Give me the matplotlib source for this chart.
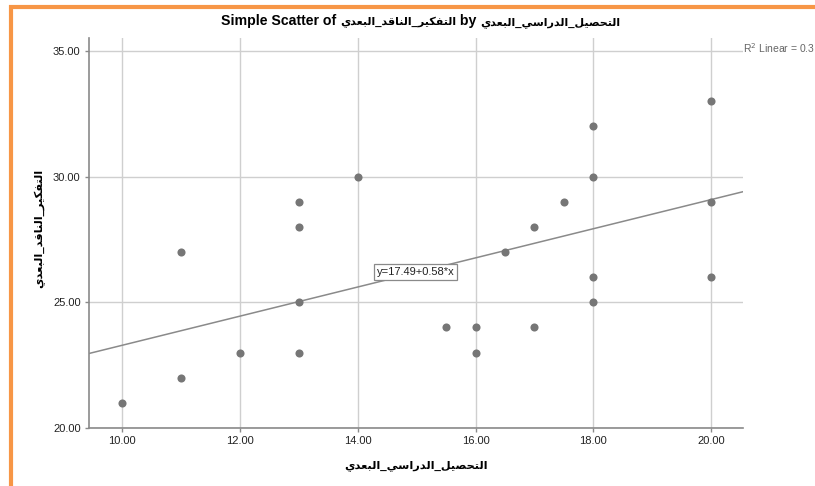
import matplotlib
matplotlib.use("Agg")
import matplotlib.pyplot as plt
from matplotlib.lines import Line2D

# ---------------- data ----------------
x_values = [10, 11, 11, 12, 13, 13, 13, 13, 14, 15.5, 16, 16, 16.5, 17, 17, 17.5,
            18, 18, 18, 18, 20, 20, 20]
y_values = [21, 22, 27, 23, 23, 25, 28, 29, 30, 24, 23, 24, 27, 24, 28, 29,
            25, 26, 30, 32, 26, 29, 33]
x_ticks = [10, 12, 14, 16, 18, 20]
y_ticks = [20, 25, 30, 35]
fit_intercept = 17.49
fit_slope = 0.58
x_name = "التحصيل_الدراسي_البعدي"
y_name = "التفكير_الناقد_البعدي"
fit_label = "y=17.49+0.58*x"
r2_label = "R$^{2}$ Linear = 0.3"

# ------------- minimal Arabic shaping (presentation forms) -------------
FORMS = {  # isolated, final, initial, medial
    'ا': ('\uFE8D', '\uFE8E', None, None),
    'ب': ('\uFE8F', '\uFE90', '\uFE91', '\uFE92'),
    'ت': ('\uFE95', '\uFE96', '\uFE97', '\uFE98'),
    'ح': ('\uFEA1', '\uFEA2', '\uFEA3', '\uFEA4'),
    'د': ('\uFEA9', '\uFEAA', None, None),
    'ر': ('\uFEAD', '\uFEAE', None, None),
    'س': ('\uFEB1', '\uFEB2', '\uFEB3', '\uFEB4'),
    'ص': ('\uFEB9', '\uFEBA', '\uFEBB', '\uFEBC'),
    'ع': ('\uFEC9', '\uFECA', '\uFECB', '\uFECC'),
    'ف': ('\uFED1', '\uFED2', '\uFED3', '\uFED4'),
    'ق': ('\uFED5', '\uFED6', '\uFED7', '\uFED8'),
    'ك': ('\uFED9', '\uFEDA', '\uFEDB', '\uFEDC'),
    'ل': ('\uFEDD', '\uFEDE', '\uFEDF', '\uFEE0'),
    'ن': ('\uFEE5', '\uFEE6', '\uFEE7', '\uFEE8'),
    'ي': ('\uFEF1', '\uFEF2', '\uFEF3', '\uFEF4'),
}


def dual(c):
    return c in FORMS and FORMS[c][2] is not None


def visual(s):
    out = []
    for i, c in enumerate(s):
        if c not in FORMS:
            out.append(c)
            continue
        prev = s[i - 1] if i > 0 else ''
        nxt = s[i + 1] if i + 1 < len(s) else ''
        jp = dual(prev)
        jn = dual(c) and nxt in FORMS
        iso, fin, ini, med = FORMS[c]
        if jp and jn:
            out.append(med)
        elif jp:
            out.append(fin)
        elif jn:
            out.append(ini)
        else:
            out.append(iso)
    return ''.join(reversed(out))


FAM = ['Liberation Sans', 'DejaVu Sans']
plt.rcParams['font.family'] = FAM

W, H = 815, 486
fig = plt.figure(figsize=(W / 100, H / 100), dpi=100)
fig.patch.set_facecolor('white')

L, R, T, B = 89, 743, 38, 428
ax = fig.add_axes([L / W, 1 - B / H, (R - L) / W, (B - T) / H])

ax.scatter(x_values, y_values, s=34, color='#767676', zorder=3, linewidths=0)
ax.axline((0, fit_intercept), slope=fit_slope, color='#8a8a8a', lw=1.1, zorder=2)

ax.set_xlim(9.44, 20.54)
ax.set_ylim(20, 35.52)
ax.set_xticks(x_ticks)
ax.set_yticks(y_ticks)
ax.set_xticklabels([f"{v:.2f}" for v in x_ticks])
ax.set_yticklabels([f"{v:.2f}" for v in y_ticks])
ax.tick_params(axis='both', labelsize=8, colors='#8a8a8a', labelcolor='#222222',
               length=3, width=1, pad=3)

ax.grid(True, color='#cfcfcf', lw=1, zorder=0)
ax.set_axisbelow(True)
for side in ['top', 'right']:
    ax.spines[side].set_visible(False)
for side in ['left', 'bottom']:
    ax.spines[side].set_color('#8a8a8a')
    ax.spines[side].set_linewidth(1.2)

# fit label box
ax.text(14.32, 26.2, fit_label, fontsize=8, color='#222222', ha='left', va='center',
        zorder=4,
        bbox=dict(boxstyle='square,pad=0.25', fc='white', ec='#8a8a8a', lw=0.9))

# R^2 label at the right of top gridline
fig.text(743 / W, 1 - 48 / H, r2_label, fontsize=7.5, color='#666666',
         ha='left', va='center')

# title, built from pieces (Latin and Arabic at different sizes)
pieces = [("Simple Scatter of ", 10.2), (visual(y_name), 8.0),
          (" by ", 10.2), (visual(x_name), 8.0)]
renderer = fig.canvas.get_renderer()
texts = []
widths = []
for s, fs in pieces:
    t = fig.text(0, 1 - 25 / H, s, fontsize=fs, fontweight='bold',
                 ha='left', va='baseline', family=FAM)
    bb = t.get_window_extent(renderer=renderer)
    texts.append(t)
    widths.append(bb.width)
total = sum(widths)
cx = 421
x0 = cx - total / 2
for t, w in zip(texts, widths):
    t.set_x(x0 / W)
    x0 += w

# axis labels
fig.text(416 / W, 1 - 466 / H, visual(x_name), fontsize=8.2, fontweight='bold',
         ha='center', va='center', family=FAM)
fig.text(40 / W, 1 - 228 / H, visual(y_name), fontsize=8.2, fontweight='bold',
         ha='center', va='center', rotation=90, family=FAM)

# orange frame (top and left)
orange = '#F79646'
fig.add_artist(Line2D([11 / W, 11 / W], [0, 1 - 5 / H], color=orange, lw=3,
                      transform=fig.transFigure, solid_capstyle='butt'))
fig.add_artist(Line2D([9 / W, 1], [1 - 7 / H, 1 - 7 / H], color=orange, lw=3,
                      transform=fig.transFigure, solid_capstyle='butt'))

fig.savefig('out.png', dpi=100, facecolor='white')
